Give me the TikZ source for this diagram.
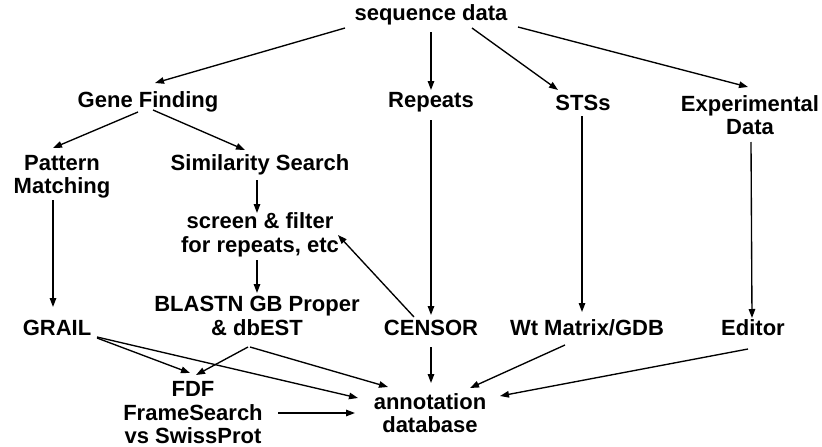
\documentclass[tikz,border=0pt]{standalone}
\usepackage{fontspec}
\setmainfont{Liberation Sans}
\usetikzlibrary{arrows.meta}
\begin{document}
\begin{tikzpicture}[x=1pt,y=-1pt,
  lbl/.style={inner sep=0pt,align=center,font=\bfseries\fontsize{22}{23.5}\selectfont},
  arr/.style={line width=1.35pt,-{Triangle[length=9pt,width=6.5pt]}}]
\useasboundingbox (0,0) rectangle (822,447);
\node[lbl] (seq) at (431,15) {sequence data};
\node[lbl] (gene) at (148,102) {Gene Finding};
\node[lbl] (rep) at (431,102) {Repeats};
\node[lbl] (sts) at (583,103) {STSs};
\node[lbl] (exp) at (750,115) {Experimental\\Data};
\node[lbl] (pat) at (62,177) {Pattern\\Matching};
\node[lbl] (sim) at (260,165) {Similarity Search};
\node[lbl] (scr) at (260,235) {screen \& filter\\for repeats, etc};
\node[lbl] (bla) at (257,316) {BLASTN GB Proper\\\& dbEST};
\node[lbl] (grail) at (57,328) {GRAIL};
\node[lbl] (cen) at (431,328) {CENSOR};
\node[lbl] (wt) at (587,328) {Wt Matrix/GDB};
\node[lbl] (ed) at (753,328) {Editor};
\node[lbl] (fdf) at (193,413) {FDF\\FrameSearch\\vs SwissProt};
\node[lbl] (ann) at (430,413) {annotation\\database};

\draw[arr] ([shift={(-86,13)}]seq.center) -- ([shift={(7,-19)}]gene.center);
\draw[arr] ([shift={(0,17)}]seq.center) -- ([shift={(0,-12)}]rep.center);
\draw[arr] ([shift={(41,13)}]seq.center) -- ([shift={(-25,-13)}]sts.center);
\draw[arr] ([shift={(87,12)}]seq.center) -- ([shift={(-2,-28)}]exp.center);
\draw[arr] ([shift={(-10,10)}]gene.center) -- ([shift={(-9,-29)}]pat.center);
\draw[arr] ([shift={(5,8)}]gene.center) -- ([shift={(-15,-15)}]sim.center);
\draw[arr] ([shift={(-3,15)}]sim.center) -- ([shift={(-3,-22)}]scr.center);
\draw[arr] ([shift={(-3,25)}]scr.center) -- ([shift={(0,-23)}]bla.center);
\draw[arr] ([shift={(-17,-11)}]cen.center) -- ([shift={(78,0)}]scr.center);
\draw[arr] ([shift={(0,18)}]rep.center) -- ([shift={(0,-13)}]cen.center);
\draw[arr] ([shift={(-1,13)}]sts.center) -- ([shift={(-5,-16)}]wt.center);
\draw[arr] ([shift={(1,27)}]exp.center) -- ([shift={(-1,-10)}]ed.center);
\draw[arr] ([shift={(-9,23)}]pat.center) -- ([shift={(-4,-21)}]grail.center);
\draw[arr] ([shift={(40,10)}]grail.center) -- ([shift={(-3,-40)}]fdf.center);
\draw[arr] ([shift={(40,9)}]grail.center) -- ([shift={(-72,-15)}]ann.center);
\draw[arr] ([shift={(-9,31)}]bla.center) -- ([shift={(3,-38)}]fdf.center);
\draw[arr] ([shift={(-7,31)}]bla.center) -- ([shift={(-42,-26)}]ann.center);
\draw[arr] ([shift={(85,0)}]fdf.center) -- ([shift={(-75,0)}]ann.center);
\draw[arr] ([shift={(0,19)}]cen.center) -- ([shift={(1,-30)}]ann.center);
\draw[arr] ([shift={(-22,17)}]wt.center) -- ([shift={(40,-25)}]ann.center);
\draw[arr] ([shift={(-5,21)}]ed.center) -- ([shift={(70,-17)}]ann.center);
\end{tikzpicture}
\end{document}
